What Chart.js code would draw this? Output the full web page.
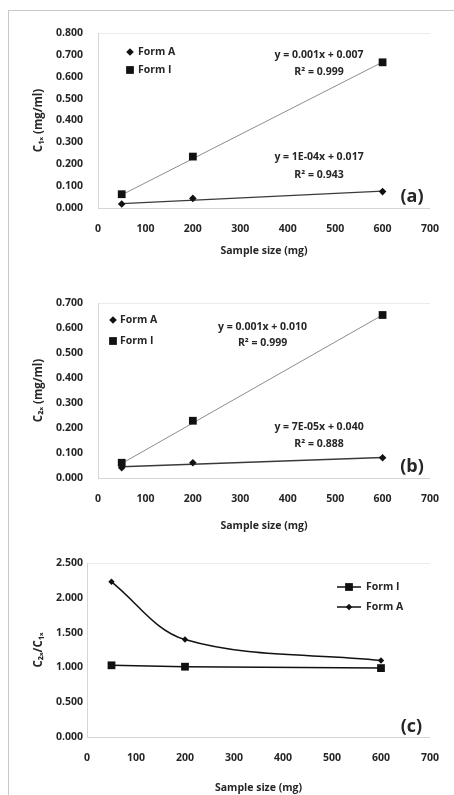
<!DOCTYPE html>
<html>
<head>
<meta charset="utf-8">
<script src="https://cdn.jsdelivr.net/npm/chart.js@4.4.1/dist/chart.umd.min.js"></script>
<style>
  html, body { margin: 0; padding: 0; background: #fff; }
  #page { position: relative; width: 454px; height: 795px; overflow: hidden; }
  #frame { position: absolute; left: 8px; top: 10px; right: -2px; bottom: -2px;
           border-left: 1px solid #c8c8c8; border-top: 1px solid #c8c8c8; }
  canvas { position: absolute; left: 0; }
</style>
</head>
<body>
<div id="page">
  <div id="frame"></div>
  <canvas id="chartA" width="454" height="262" style="top:0px"></canvas>
  <canvas id="chartB" width="454" height="272" style="top:262px"></canvas>
  <canvas id="chartC" width="454" height="261" style="top:534px"></canvas>
</div>
<script>
// sample sizes (mg) shared by all three panels
const sampleSizes = [50, 200, 600];

// (a) C1x (mg/ml)
const c1xFormA = [0.018, 0.044, 0.075];
const c1xFormI = [0.063, 0.235, 0.666];
// (b) C2x (mg/ml)
const c2xFormA = [0.041, 0.061, 0.081];
const c2xFormI = [0.061, 0.229, 0.652];
// (c) C2x/C1x
const ratioFormI = [1.03, 1.01, 0.99];
const ratioFormA = [2.23, 1.40, 1.10];

// linear trendline end points
const trendX = [50, 600];
const trendC1xA = [0.020, 0.077];
const trendC1xI = [0.060, 0.667];
const trendC2xA = [0.045, 0.082];
const trendC2xI = [0.058, 0.652];

const FONT = '"Open Sans", Lato, sans-serif';
const TXT = '#262626';
const TICK_FONT = { family: FONT, size: 10.5, weight: 'bold' };

const pts = (xs, ys) => xs.map((x, i) => ({ x: x, y: ys[i] }));

function drawMarker(ctx, style, x, y, r) {
  ctx.beginPath();
  if (style === 'rect') {
    const s = r * Math.SQRT1_2;
    ctx.rect(x - s, y - s, 2 * s, 2 * s);
  } else {
    ctx.moveTo(x - r, y); ctx.lineTo(x, y - r); ctx.lineTo(x + r, y); ctx.lineTo(x, y + r);
    ctx.closePath();
  }
  ctx.fill();
}

// equation labels, panel letter and the legend inside the plot area
const panelText = {
  id: 'panelText',
  afterDatasetsDraw(chart, args, opts) {
    const { ctx, chartArea } = chart;
    const sx = chart.scales.x, sy = chart.scales.y;
    ctx.save();
    ctx.fillStyle = TXT;
    ctx.textBaseline = 'middle';
    (opts.notes || []).forEach(n => {
      ctx.font = n.font || ('bold 10.5px ' + FONT);
      ctx.textAlign = 'center';
      ctx.fillText(n.text, sx.getPixelForValue(n.x), sy.getPixelForValue(n.y));
    });
    const lg = opts.legend;
    if (lg) {
      lg.items.forEach((di, k) => {
        const ds = chart.data.datasets[di];
        const mx = chartArea.left + lg.dx;
        const my = chartArea.top + lg.dy + k * lg.gap;
        ctx.fillStyle = '#111';
        if (lg.line) {
          ctx.strokeStyle = '#111';
          ctx.lineWidth = 1.5;
          ctx.beginPath(); ctx.moveTo(mx - 12, my); ctx.lineTo(mx + 12, my); ctx.stroke();
        }
        drawMarker(ctx, ds.pointStyle, mx, my, ds.pointRadius);
        ctx.fillStyle = TXT;
        ctx.font = 'bold 10.5px ' + FONT;
        ctx.textAlign = 'left';
        ctx.fillText(ds.label, mx + lg.textGap, my);
      });
    }
    ctx.restore();
  }
};

function makeChart(id, cfg) {
  return new Chart(document.getElementById(id), {
    type: 'scatter',
    data: { datasets: cfg.datasets },
    plugins: [panelText],
    options: {
      responsive: false,
      animation: false,
      layout: { padding: cfg.padding },
      plugins: {
        legend: { display: false },
        tooltip: { enabled: false },
        panelText: { notes: cfg.notes, legend: cfg.legend }
      },
      scales: {
        x: {
          type: 'linear', min: 0, max: 700,
          afterFit: s => { s.height = cfg.xHeight; },
          ticks: { stepSize: 100, padding: 15, color: TXT, font: TICK_FONT },
          grid: { display: false, drawTicks: false },
          border: { display: true, color: '#d6d6d6' },
          title: { display: true, text: 'Sample size (mg)', color: TXT, padding: { top: 0, bottom: 1 },
                   font: { family: FONT, size: 10.5, weight: 'bold' } }
        },
        y: {
          type: 'linear', min: 0, max: cfg.yMax,
          afterFit: s => { s.width = cfg.yWidth; },
          ticks: { stepSize: cfg.yStep, padding: cfg.yPad, color: TXT, font: TICK_FONT,
                   callback: v => v.toFixed(3) },
          grid: { drawTicks: false,
                  color: c => (Math.abs(c.tick.value - cfg.yMax) < 1e-9 ? '#ebebeb' : 'rgba(0,0,0,0)') },
          border: { display: true, color: '#d6d6d6' },
          title: { display: true, text: cfg.yTitle, color: TXT, padding: { top: 22, bottom: 0 },
                   font: { family: FONT, size: 11.5, weight: 'bold' } }
        }
      }
    }
  });
}

function trendSet(ys, color, w) {
  return { label: 'trend', data: pts(trendX, ys), showLine: true, pointRadius: 0,
           borderColor: color, borderWidth: w, order: 2 };
}
function markerSet(label, ys, style, r) {
  return { label: label, data: pts(sampleSizes, ys), pointStyle: style, pointRadius: r,
           backgroundColor: '#111', borderColor: '#111', borderWidth: 0, showLine: false, order: 1 };
}

makeChart('chartA', {
  padding: { left: 10, top: 33, right: 21, bottom: 4 },
  yWidth: 88, xHeight: 50, yMax: 0.8, yStep: 0.1, yPad: 15, yTitle: 'C\u2081\u2093 (mg/ml)',
  datasets: [
    markerSet('Form A', c1xFormA, 'rectRot', 3.8),
    markerSet('Form I', c1xFormI, 'rect', 5.5),
    trendSet(trendC1xA, '#3a3a3a', 1.3),
    trendSet(trendC1xI, '#8c8c8c', 1)
  ],
  legend: { dx: 32, dy: 19, gap: 18, textGap: 8, items: [0, 1] },
  notes: [
    { text: 'y = 0.001x + 0.007', x: 466, y: 0.70 },
    { text: 'R\u00b2 = 0.999', x: 466, y: 0.62 },
    { text: 'y = 1E-04x + 0.017', x: 466, y: 0.233 },
    { text: 'R\u00b2 = 0.943', x: 466, y: 0.151 },
    { text: '(a)', x: 662, y: 0.05, font: 'bold 18px ' + FONT }
  ]
});

makeChart('chartB', {
  padding: { left: 10, top: 41, right: 21, bottom: 1 },
  yWidth: 88, xHeight: 55, yMax: 0.7, yStep: 0.1, yPad: 15, yTitle: 'C\u2082\u2093 (mg/ml)',
  datasets: [
    markerSet('Form A', c2xFormA, 'rectRot', 3.8),
    markerSet('Form I', c2xFormI, 'rect', 5.5),
    trendSet(trendC2xA, '#3a3a3a', 1.3),
    trendSet(trendC2xI, '#8c8c8c', 1)
  ],
  legend: { dx: 15, dy: 17, gap: 21, textGap: 7, items: [0, 1] },
  notes: [
    { text: 'y = 0.001x + 0.010', x: 347, y: 0.604 },
    { text: 'R\u00b2 = 0.999', x: 347, y: 0.54 },
    { text: 'y = 7E-05x + 0.040', x: 466, y: 0.204 },
    { text: 'R\u00b2 = 0.888', x: 466, y: 0.136 },
    { text: '(b)', x: 662, y: 0.044, font: 'bold 18px ' + FONT }
  ]
});

makeChart('chartC', {
  padding: { left: 10, top: 29, right: 21, bottom: 0 },
  yWidth: 77, xHeight: 58, yMax: 2.5, yStep: 0.5, yPad: 4, yTitle: 'C\u2082\u2093/C\u2081\u2093',
  datasets: [
    { label: 'Form I', data: pts(sampleSizes, ratioFormI), showLine: true, pointStyle: 'rect', pointRadius: 5.5,
      backgroundColor: '#111', borderColor: '#111', borderWidth: 1.5, pointBorderWidth: 0 },
    { label: 'Form A', data: pts(sampleSizes, ratioFormA), showLine: true, pointStyle: 'rectRot', pointRadius: 3.2,
      tension: 0.35, backgroundColor: '#111', borderColor: '#111', borderWidth: 1.5, pointBorderWidth: 0 }
  ],
  legend: { dx: 262, dy: 24, gap: 20, textGap: 17, line: true, items: [0, 1] },
  notes: [
    { text: '(c)', x: 662, y: 0.14, font: 'bold 18px ' + FONT }
  ]
});
</script>
</body>
</html>
